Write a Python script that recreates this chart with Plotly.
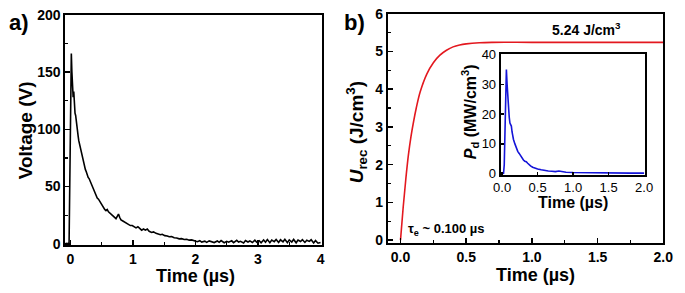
import plotly.graph_objects as go

# ---------------- data ----------------
# Panel a: voltage vs time (µs)
t_a = [-0.08, -0.04, -0.02, -0.01, 0.0, 0.01, 0.016, 0.025, 0.035, 0.045, 0.055, 0.065, 0.075,
       0.085, 0.095, 0.105, 0.115, 0.125, 0.135, 0.15, 0.165, 0.18, 0.195, 0.21, 0.225, 0.24,
       0.255, 0.27, 0.285, 0.30, 0.315, 0.33, 0.35, 0.37, 0.39, 0.41, 0.43, 0.45, 0.47, 0.49,
       0.51, 0.53, 0.55, 0.57, 0.59, 0.61, 0.63, 0.65, 0.67, 0.69, 0.71, 0.73, 0.75, 0.77,
       0.79, 0.81, 0.84, 0.87, 0.90, 0.93, 0.96, 0.99, 1.02, 1.05, 1.08, 1.11, 1.14, 1.17,
       1.20, 1.23, 1.26, 1.30, 1.33, 1.37, 1.40, 1.44, 1.47, 1.51, 1.55, 1.58, 1.62, 1.66,
       1.70, 1.74, 1.78, 1.82, 1.86, 1.90, 1.94, 1.97,
       2.00, 2.03, 2.07, 2.10, 2.15, 2.18, 2.22, 2.27, 2.30, 2.35, 2.38, 2.41, 2.46, 2.50,
       2.53, 2.58, 2.61, 2.66, 2.69, 2.72, 2.77, 2.80, 2.84, 2.87, 2.91, 2.95, 2.98, 3.02,
       3.05, 3.09, 3.12, 3.15, 3.19, 3.22, 3.26, 3.29, 3.33, 3.36, 3.40, 3.43, 3.47, 3.50,
       3.54, 3.57, 3.61, 3.64, 3.68, 3.71, 3.75, 3.78, 3.82, 3.85, 3.89, 3.92, 3.96, 4.00]
v_a = [0.5, 0.3, 1, 40, 110, 150, 166, 150, 142, 128, 133, 120, 114,
       112, 106, 100, 96, 94, 90, 86, 82, 78, 75, 72, 68, 65,
       63, 60, 58, 57, 55, 52, 49, 47, 44, 42, 40, 39, 37, 35,
       33, 32, 30, 29, 30, 28, 27, 26, 25, 24, 23, 22, 24, 26,
       23, 21, 20, 19, 18, 17, 16, 16, 15, 14, 15, 13, 12, 13,
       12, 13, 11, 10, 10.5, 9.2, 8.8, 8.0, 8.4, 7.2, 6.9, 6.2, 6.5, 5.4,
       5.2, 4.4, 4.6, 3.9, 4.1, 3.3, 3.5, 2.9,
       2.6, 1.9, 2.8, 1.6, 2.4, 1.3, 2.6, 1.8, 1.2, 2.5, 1.4, 2.9, 1.0, 2.2,
       1.5, 2.7, 1.1, 3.1, 1.6, 2.3, 0.9, 3.0, 1.7, 2.6, 1.2, 3.2, 1.4, 2.8,
       0.9, 3.4, 1.5, 3.8, 1.0, 3.3, 2.0, 3.9, 1.2, 3.6, 1.8, 4.0, 1.1, 3.5,
       1.6, 3.9, 1.0, 3.4, 2.1, 3.7, 1.3, 3.2, 2.2, 3.6, 0.8, 2.9, 0.6, 1.2]

# Panel b: recoverable energy density vs time (µs)
t_b = [0.0, 0.02, 0.04, 0.06, 0.08, 0.10, 0.12, 0.15, 0.20, 0.25, 0.30, 0.35, 0.40,
       0.45, 0.50, 0.60, 0.70, 1.00, 1.50, 2.00]
u_b = [0.0, 0.85, 1.6, 2.25, 2.75, 3.15, 3.5, 3.93, 4.4, 4.7, 4.9, 5.03, 5.12,
       5.17, 5.2, 5.23, 5.24, 5.24, 5.24, 5.24]

# Inset: power density vs time (µs)
t_in = [0.0, 0.02, 0.03, 0.04, 0.05, 0.06, 0.07, 0.08, 0.09, 0.10, 0.11, 0.12, 0.13, 0.14,
        0.15, 0.16, 0.18, 0.20, 0.22, 0.24, 0.26, 0.28, 0.30, 0.32, 0.34, 0.36, 0.38, 0.40,
        0.43, 0.46, 0.50, 0.55, 0.60, 0.65, 0.70, 0.75, 0.80, 0.85, 0.90, 1.0, 1.1, 1.2,
        1.3, 1.4, 1.5, 1.6, 1.7, 1.8, 1.9, 2.0]
p_in = [0, 0.1, 3, 15, 30, 35, 30, 25, 22, 19, 17, 16.5, 16, 14,
        12.5, 11.5, 10, 8.5, 7.5, 6.8, 6, 5.2, 4.6, 4.2, 4.0, 3.5, 3.0, 2.6,
        2.2, 1.9, 1.6, 1.3, 1.0, 0.9, 0.8, 0.7, 0.9, 0.6, 0.5, 0.4, 0.35, 0.3,
        0.3, 0.25, 0.25, 0.2, 0.2, 0.2, 0.2, 0.2]

W, H = 685, 293
FONT = "Liberation Sans, Arial, sans-serif"


def px(x):
    return x / W


def py(y):
    return 1 - y / H


fig = go.Figure()
fig.add_trace(go.Scatter(x=t_a, y=v_a, xaxis="x", yaxis="y", mode="lines",
                         line=dict(color="black", width=1.6)))
fig.add_trace(go.Scatter(x=t_b, y=u_b, xaxis="x2", yaxis="y2", mode="lines",
                         line=dict(color="#e3181f", width=1.6, shape="spline")))
fig.add_trace(go.Scatter(x=t_in, y=p_in, xaxis="x3", yaxis="y3", mode="lines",
                         line=dict(color="#1414d8", width=1.6)))


def ax(domain, rng, dtick, minor, anchor, bold=True, size=14, ticklen=5):
    d = dict(domain=domain, range=rng, dtick=dtick, tick0=0, anchor=anchor,
             showline=True, linecolor="black", linewidth=2, mirror=True,
             ticks="inside", ticklen=ticklen, tickwidth=1.5, tickcolor="black",
             showgrid=False, zeroline=False,
             tickfont=dict(family=FONT, size=size, color="black",
                           weight="bold" if bold else "normal"))
    if minor:
        d["minor"] = dict(ticks="inside", ticklen=3, dtick=minor, tickwidth=1.2,
                          tickcolor="black", showgrid=False)
    return d


fig.update_layout(
    width=W, height=H, margin=dict(l=0, r=0, t=0, b=0),
    paper_bgcolor="white", plot_bgcolor="white", showlegend=False,
    xaxis=ax([px(59), px(322)], [-0.078, 4.016], 1, 0.5, "y"),
    yaxis=ax([py(250), py(8)], [-1, 200], 50, 25, "x"),
    xaxis2=ax([px(390), px(673)], [-0.097, 2.0], 0.5, 0.25, "y2"),
    yaxis2=ax([py(248), py(7)], [-0.08, 6.0], 1, 0.5, "x2"),
    xaxis3=ax([px(506), px(654)], [-0.02, 2.01], 0.5, None, "y3", bold=False, size=13, ticklen=3),
    yaxis3=ax([py(176), py(49)], [-0.3, 40.3], 10, None, "x3", bold=False, size=13, ticklen=3),
)
fig.update_layout(xaxis3=dict(tickformat=".1f"), xaxis2=dict(tickformat=".1f"))


def ann(text, x, y, size, angle=0, xanchor="center"):
    fig.add_annotation(text=text, x=px(x), y=py(y), xref="paper", yref="paper",
                       showarrow=False, textangle=angle, xanchor=xanchor, yanchor="middle",
                       borderpad=0,
                       font=dict(family=FONT, size=size, color="black", weight="bold"))


ann("a)", 11, 16, 22)
ann("b)", 356, 16, 22)
ann("Voltage (V)", 18, 130, 19, angle=-90)
ann("Time (µs)", 193, 282, 18)
ann("<i>U</i><sub>rec</sub> (J/cm<sup>3</sup>)", 358, 132, 19, angle=-90)
ann("Time (µs)", 542, 281, 18)
ann("5.24 J/cm<sup>3</sup>", 594, 23, 14)
ann("τ<sub>e</sub> ~ 0.100 µs", 450, 234, 13)
ann("<i>P</i><sub>d</sub> (MW/cm<sup>3</sup>)", 474, 110, 16, angle=-90)
ann("Time (µs)", 580, 205, 16)

fig.write_html(
    "out.html",
    config={"displayModeBar": False, "staticPlot": True},
    post_script=("document.documentElement.style.margin='0';"
                 "document.documentElement.style.overflow='hidden';"
                 "document.body.style.margin='0';"
                 "document.body.style.overflow='hidden';"),
)
